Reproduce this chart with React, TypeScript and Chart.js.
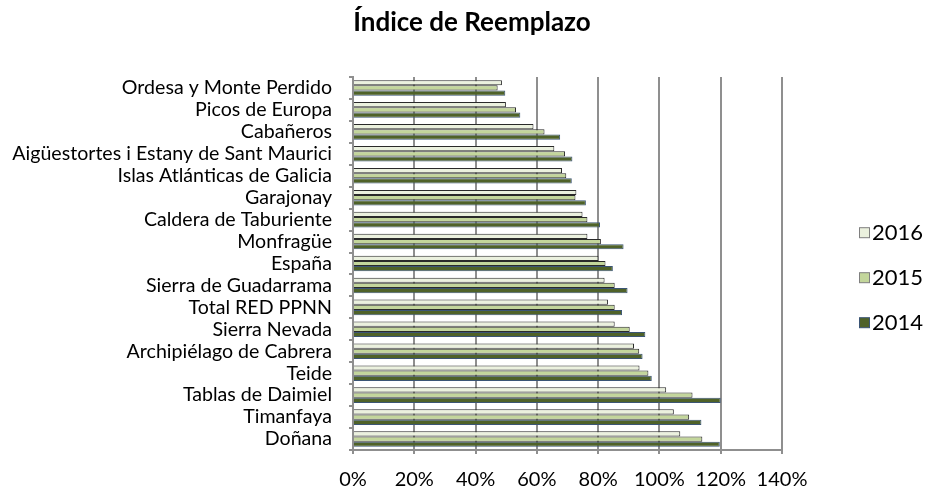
import { useEffect, useRef } from "react";
import Chart from "chart.js/auto";

const titleText = "Índice de Reemplazo";
const categories = [
  "Ordesa y Monte Perdido",
  "Picos de Europa",
  "Cabañeros",
  "Aigüestortes i Estany de Sant Maurici",
  "Islas Atlánticas de Galicia",
  "Garajonay",
  "Caldera de Taburiente",
  "Monfragüe",
  "España",
  "Sierra de Guadarrama",
  "Total RED PPNN",
  "Sierra Nevada",
  "Archipiélago de Cabrera",
  "Teide",
  "Tablas de Daimiel",
  "Timanfaya",
  "Doñana",
];
const seriesNames = ["2016", "2015", "2014"];
const values2016 = [48.6, 49.9, 58.9, 65.7, 68.2, 72.9, 74.9, 76.5, 80.1, 82.1, 83.2, 85.4, 91.7, 93.5, 102.2, 104.7, 106.8];
const values2015 = [47.2, 53.2, 62.5, 69.2, 69.6, 72.6, 76.5, 80.9, 82.4, 85.4, 85.4, 90.3, 93.4, 96.4, 110.8, 109.7, 114.0];
const values2014 = [49.7, 54.6, 67.6, 71.6, 71.4, 76.0, 80.6, 88.3, 84.8, 89.6, 87.8, 95.4, 94.5, 97.5, 120.0, 113.7, 119.7];
const xMin = 0;
const xMax = 140;
const xStep = 20;

const FONT = "Lato";
const fills = ["#EBF1DE", "#C3D69B", "#4F6228"];
const borders = ["#2a2a2a", "#2a2a2a", "#3B5575"];
const gridColor = "#8f8f8f";

export default function App() {
  const ref = useRef<HTMLCanvasElement | null>(null);
  useEffect(() => {
    if (!ref.current) return;
    const overlay = {
      id: "overlay",
      afterDraw(chart: any) {
        const ctx = chart.ctx;
        ctx.save();
        ctx.fillStyle = "#000";
        ctx.font = `bold 26px ${FONT}`;
        ctx.textAlign = "center";
        ctx.textBaseline = "alphabetic";
        ctx.fillText(titleText, 472, 31);
        // legend
        const rows = [232.7, 277.7, 322.7];
        chart.data.datasets.forEach((ds: any, i: number) => {
          const y = rows[i];
          ctx.fillStyle = ds.backgroundColor;
          ctx.fillRect(859.5, y - 5, 10, 10);
          ctx.strokeStyle = i === 2 ? "#3B5575" : "#7f7f7f";
          ctx.lineWidth = 1;
          ctx.strokeRect(859.5, y - 5, 10, 10);
          ctx.fillStyle = "#000";
          ctx.font = `22px ${FONT}`;
          ctx.textAlign = "left";
          ctx.textBaseline = "middle";
          ctx.fillText(ds.label, 872, y);
        });
        ctx.restore();
      },
    };
    const chart = new Chart(ref.current, {
      type: "bar",
      data: {
        labels: categories,
        datasets: [values2016, values2015, values2014].map((vals, i) => ({
          label: seriesNames[i],
          data: vals,
          backgroundColor: fills[i],
          borderColor: borders[i],
          borderWidth: 1,
          categoryPercentage: 0.71,
          barPercentage: 1.0,
        })),
      },
      options: {
        indexAxis: "y",
        responsive: false,
        animation: false,
        layout: { padding: { top: 77, right: 146, left: 0, bottom: 0 } },
        plugins: {
          legend: { display: false },
          title: { display: false },
          tooltip: { enabled: false },
        },
        scales: {
          x: {
            type: "linear",
            min: xMin,
            max: xMax,
            ticks: {
              stepSize: xStep,
              callback: (v: any) => `${v}%`,
              font: { family: FONT, size: 20 },
              color: "#000",
              padding: 14,
              maxRotation: 0,
            },
            grid: { color: gridColor, lineWidth: 2, drawTicks: true, tickLength: 4 },
            border: { display: true, color: gridColor, width: 2 },
            afterFit: (s: any) => {
              s.height = 37;
            },
          },
          y: {
            type: "category",
            ticks: {
              font: { family: FONT, size: 19.6 },
              color: "#000",
              padding: 17,
              autoSkip: false,
            },
            grid: {
              display: true,
              drawOnChartArea: false,
              drawTicks: true,
              tickLength: 4,
              color: gridColor,
              lineWidth: 2,
              offset: true,
            },
            border: { display: true, color: gridColor, width: 2 },
            afterFit: (s: any) => {
              s.width = 353;
            },
          },
        },
      },
      plugins: [overlay],
    });
    return () => chart.destroy();
  }, []);
  return (
    <div style={{ position: "fixed", left: 0, top: 0, width: 928, height: 487, background: "#fff" }}>
      <canvas ref={ref} width={928} height={487} style={{ display: "block" }} />
    </div>
  );
}
